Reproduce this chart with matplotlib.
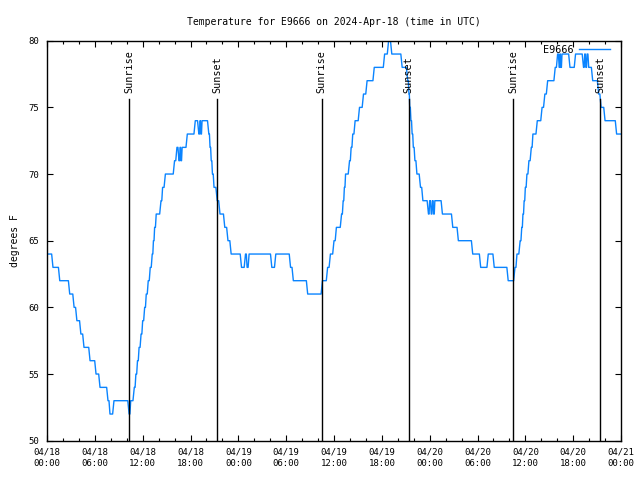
import datetime as dt
import matplotlib
matplotlib.use("Agg")
import matplotlib.pyplot as plt
import matplotlib.dates as mdates

# hours since 2024-04-18 00:00 UTC where the reading changes, and the reading (deg F)
hours = [0, 0.75, 1.6, 2.85, 3.4, 3.75, 4.25, 4.64, 5.4, 6.15, 6.65, 7.65, 7.9, 8.4,
         10.3, 10.5, 10.95, 11.15, 11.35, 11.55, 11.8, 12.0, 12.25, 12.45, 12.7, 12.95,
         13.2, 13.35, 13.5, 13.7, 14.3, 14.5, 14.85, 16.0, 16.3, 16.55, 16.7, 16.8, 16.95,
         17.6, 18.6, 19.05, 19.2, 19.3, 19.45, 20.3, 20.45, 20.6, 20.75, 20.95, 21.35,
         21.7, 22.3, 22.7, 23.1, 24.4, 24.9, 25.1, 25.35, 28.2, 28.7, 30.55, 30.9, 32.7,
         34.55, 35.2, 35.55, 36.0, 36.3, 36.95, 37.15, 37.3, 37.45, 37.95, 38.15, 38.35,
         38.65, 39.2, 39.7, 40.15, 41.05, 42.35, 42.85, 43.25, 44.55, 45.25, 45.4, 45.5,
         45.65, 45.8, 45.95, 46.15, 46.4, 46.85, 47.15, 47.85, 48.0, 48.2, 48.35, 48.5,
         48.65, 49.6, 50.9, 51.6, 53.4, 54.4, 55.35, 56.1, 57.85, 58.7, 58.95, 59.35,
         59.55, 59.7, 59.85, 60.0, 60.2, 60.45, 60.75, 60.95, 61.5, 62.1, 62.45, 62.8,
         63.75, 64.05, 64.25, 64.35, 64.45, 64.6, 65.6, 66.3, 67.3, 67.45, 67.6, 67.75,
         67.95, 68.45, 69.2, 69.5, 70.0, 71.45, 71.95]
temps = [64, 63, 62, 61, 60, 59, 58, 57, 56, 55, 54, 53, 52, 53,
         52, 53, 54, 55, 56, 57, 58, 59, 60, 61, 62, 63,
         64, 65, 66, 67, 68, 69, 70, 71, 72, 71, 72, 71, 72,
         73, 74, 73, 74, 73, 74, 73, 72, 71, 70, 69, 68,
         67, 66, 65, 64, 63, 64, 63, 64, 63, 64, 63, 62, 61,
         62, 63, 64, 65, 66, 67, 68, 69, 70, 71, 72, 73,
         74, 75, 76, 77, 78, 79, 80, 79, 78, 77, 76, 75,
         74, 73, 72, 71, 70, 69, 68, 67, 68, 67, 68, 67,
         68, 67, 66, 65, 64, 63, 64, 63, 62, 63, 64, 65,
         66, 67, 68, 69, 70, 71, 72, 73, 74, 75, 76, 77,
         78, 79, 78, 79, 78, 79, 78, 79, 78, 79, 78, 79,
         78, 77, 76, 75, 74, 73, 73]

sun_hours = [10.3, 21.35, 34.45, 45.35, 58.45, 69.4]
sun_labels = ["Sunrise", "Sunset", "Sunrise", "Sunset", "Sunrise", "Sunset"]

title = "Temperature for E9666 on 2024-Apr-18 (time in UTC)"
ylabel = "degrees F"
series_name = "E9666"

SAMPLE = 1 / 6  # ~10 minute logging interval: each change takes one sample

# build the sampled line: hold each reading, then move to the next over one sample
px, py = [], []
for i, (h, v) in enumerate(zip(hours, temps)):
    px.append(h)
    py.append(v)
    if i + 1 < len(hours):
        nxt = hours[i + 1]
        step = min(SAMPLE, (nxt - h) / 2)
        px.append(nxt - step)
        py.append(v)

base = dt.datetime(2024, 4, 18, 0, 0)
times = [base + dt.timedelta(hours=h) for h in px]
sun_times = [base + dt.timedelta(hours=h) for h in sun_hours]

FONT = "DejaVu Sans Mono"
plt.rcParams["font.family"] = FONT

fig = plt.figure(figsize=(6.4, 4.8), dpi=100)
ax = fig.add_axes([47 / 640, 1 - 440.7 / 480, (621 - 47) / 640, 400 / 480])

ax.plot(times, py, color="#0a84ff", lw=1.0, label=series_name)

for t, lab in zip(sun_times, sun_labels):
    ax.plot([t, t], [50, 75.6], color="black", lw=1.0)
    ax.text(t, 76.1, lab, rotation=90, ha="center", va="bottom", fontsize=7.3, family=FONT)

ax.set_xlim(base, base + dt.timedelta(hours=72))
ax.set_ylim(50, 80)
ax.set_yticks(range(50, 81, 5))
ax.xaxis.set_major_locator(mdates.HourLocator(byhour=[0, 6, 12, 18]))
ax.xaxis.set_minor_locator(mdates.HourLocator(byhour=range(0, 24, 2)))
ax.xaxis.set_major_formatter(mdates.DateFormatter("%m/%d\n%H:%M"))

ax.tick_params(which="major", direction="in", length=4.5, width=0.8, top=True, right=True,
               labelsize=6.5, pad=5)
ax.tick_params(which="minor", direction="in", length=2.5, width=0.8, top=True, right=True)
ax.tick_params(axis="y", pad=6)
for lab in ax.get_xticklabels():
    lab.set_linespacing(1.3)

ax.set_title(title, fontsize=7, pad=11)
ax.set_ylabel(ylabel, fontsize=7, labelpad=6)

leg = ax.legend(loc="upper right", frameon=False, fontsize=7.3, handlelength=3.1,
                handletextpad=0.5, borderaxespad=0.0, borderpad=0.0,
                bbox_to_anchor=(0.981, 0.99), markerfirst=False)

for s in ax.spines.values():
    s.set_linewidth(1.0)

fig.savefig("out.png", dpi=100)
